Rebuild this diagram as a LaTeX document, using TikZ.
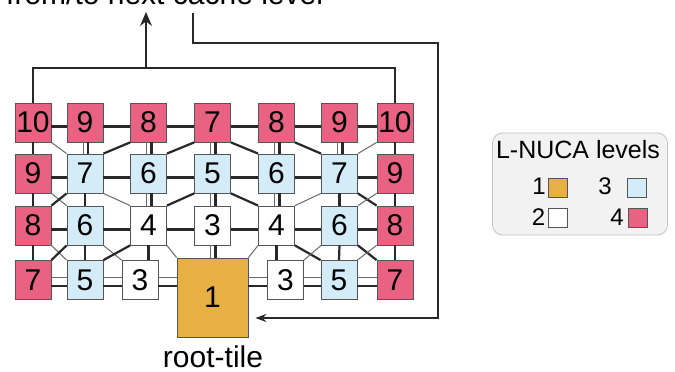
\documentclass[tikz,border=0pt]{standalone}
\usepackage{fontspec}
\setmainfont{Liberation Sans}
\usetikzlibrary{arrows.meta}
\definecolor{pinkc}{RGB}{233,98,130}
\definecolor{bluec}{RGB}{212,236,248}
\definecolor{orangec}{RGB}{232,176,66}
\definecolor{tileb}{RGB}{85,85,85}
\definecolor{darkl}{RGB}{40,40,40}
\definecolor{grayl}{RGB}{105,105,105}
\definecolor{legfill}{RGB}{242,242,242}
\definecolor{legdraw}{RGB}{195,195,195}
\begin{document}
\begin{tikzpicture}[x=1pt,y=-1pt,
  tile/.style={draw=tileb, line width=0.8pt, minimum width=36pt, minimum height=39pt, inner sep=0pt, font=\fontsize{30}{30}\selectfont},
  Lfour/.style={tile, fill=pinkc},
  Lthree/.style={tile, fill=bluec},
  Ltwo/.style={tile, fill=white},
  thickl/.style={line width=2.2pt, draw=darkl},
  thinl/.style={line width=1pt, draw=grayl},
  route/.style={line width=1.3pt, draw=darkl},
  legsq/.style={draw=tileb, line width=0.7pt, minimum width=19pt, minimum height=19pt, inner sep=0pt},
  legnum/.style={font=\fontsize{24}{24}\selectfont, inner sep=0pt},
  bigtext/.style={font=\fontsize{30}{30}\selectfont, inner sep=0pt}
]
\useasboundingbox (0,0) rectangle (675,372);

% ---- tiles ----
% row 1
\node[Lfour] (t11) at (33,122.5) {10};
\node[Lfour] (t12) at (85,122.5) {9};
\node[Lfour] (t13) at (148.5,122.5) {8};
\node[Lfour] (t14) at (212.5,122.5) {7};
\node[Lfour] (t15) at (276.5,122.5) {8};
\node[Lfour] (t16) at (339.5,122.5) {9};
\node[Lfour] (t17) at (395,122.5) {10};
% row 2
\node[Lfour]  (t21) at (33,173.5) {9};
\node[Lthree] (t22) at (85,173.5) {7};
\node[Lthree] (t23) at (148.5,173.5) {6};
\node[Lthree] (t24) at (212.5,173.5) {5};
\node[Lthree] (t25) at (276.5,173.5) {6};
\node[Lthree] (t26) at (339.5,173.5) {7};
\node[Lfour]  (t27) at (395,173.5) {9};
% row 3
\node[Lfour]  (t31) at (33,225.5) {8};
\node[Lthree] (t32) at (85,225.5) {6};
\node[Ltwo]   (t33) at (148.5,225.5) {4};
\node[Ltwo]   (t34) at (212.5,225.5) {3};
\node[Ltwo]   (t35) at (276.5,225.5) {4};
\node[Lthree] (t36) at (339.5,225.5) {6};
\node[Lfour]  (t37) at (395,225.5) {8};
% row 4
\node[Lfour]  (t41) at (33,280) {7};
\node[Lthree] (t42) at (85,280) {5};
\node[Ltwo]   (t43) at (140,280) {3};
\node[tile, fill=orangec, minimum width=71pt, minimum height=79pt] (root) at (212.5,297.5) {1};
\node[Ltwo]   (t45) at (285.5,280) {3};
\node[Lthree] (t46) at (339,280) {5};
\node[Lfour]  (t47) at (395,280) {7};

% ---- horizontal links ----
\foreach \r in {1,2,3}{
  \foreach \c/\d in {1/2,2/3,3/4,4/5,5/6,6/7}{
    \draw[thickl] ([yshift=-4pt]t\r\c.east) -- ([yshift=-4pt]t\r\d.west);
  }
}
\foreach \a/\b in {t41/t42,t42/t43,t45/t46,t46/t47}{
  \draw[thinl] ([yshift=3pt]\a.east) -- ([yshift=3pt]\b.west);
  \draw[thickl] ([yshift=-6pt]\a.east) -- ([yshift=-6pt]\b.west);
}
\draw[thinl] ([yshift=3pt]t43.east) -- ([yshift=3pt]t43.east -| root.west);
\draw[thickl] ([yshift=-6pt]t43.east) -- ([yshift=-6pt]t43.east -| root.west);
\draw[thinl] ([yshift=3pt]t45.west -| root.east) -- ([yshift=3pt]t45.west);
\draw[thickl] ([yshift=-6pt]t45.west -| root.east) -- ([yshift=-6pt]t45.west);

% ---- vertical links ----
\foreach \c in {2,...,6}{
  \draw[thinl] ([xshift=-2pt]t1\c.south) -- ([xshift=-2pt]t2\c.north);
  \draw[thickl] ([xshift=3pt]t1\c.south) -- ([xshift=3pt]t2\c.north);
}
\foreach \c in {1,7}{
  \draw[thickl] (t1\c.south) -- (t2\c.north);
}
\foreach \c in {3,4,5}{
  \draw[thinl] ([xshift=-2pt]t2\c.south) -- ([xshift=-2pt]t3\c.north);
  \draw[thickl] ([xshift=3pt]t2\c.south) -- ([xshift=3pt]t3\c.north);
}
\foreach \c in {1,2,6,7}{
  \draw[thickl] (t2\c.south) -- (t3\c.north);
}
\foreach \c in {1,2,6,7}{
  \draw[thickl] (t3\c.south) -- (t4\c.north);
}
\draw[thickl] (t33.south) -- (t33.south |- t43.north);
\draw[thickl] (t35.south) -- (t35.south |- t45.north);
\draw[thinl] ([xshift=-2pt]t34.south) -- ([xshift=-2pt]t34.south |- root.north);
\draw[thickl] ([xshift=3pt]t34.south) -- ([xshift=3pt]t34.south |- root.north);

% ---- diagonal links ----
% rows 1-2
\draw[thinl]  (t11.south east) -- (t22.north west);
\draw[thickl] (t13.south west) -- (t22.north east);
\draw[thickl] (t14.south west) -- (t23.north east);
\draw[thickl] (t14.south east) -- (t25.north west);
\draw[thickl] (t15.south east) -- (t26.north west);
\draw[thinl]  (t17.south west) -- (t26.north east);
% rows 2-3
\draw[thinl]  (t21.south east) -- (t32.north west);
\draw[thickl] (t22.south west) -- (t31.north east);
\draw[thinl]  (t22.south east) -- (t33.north west);
\draw[thickl] (t24.south west) -- (t33.north east);
\draw[thickl] (t24.south east) -- (t35.north west);
\draw[thinl]  (t26.south west) -- (t35.north east);
\draw[thickl] (t26.south east) -- (t37.north west);
\draw[thinl]  (t27.south west) -- (t36.north east);
% rows 3-4
\draw[thinl]  (t31.south east) -- (t42.north west);
\draw[thickl] (t32.south west) -- (t41.north east);
\draw[thinl]  (t32.south east) -- (t43.north west);
\draw[thickl] (t33.south west) -- (t42.north east);
\draw[thinl]  (t33.south east) -- (root.north west);
\draw[thinl]  (t35.south west) -- (root.north east);
\draw[thickl] (t35.south east) -- (t46.north west);
\draw[thinl]  (t36.south west) -- (t45.north east);
\draw[thickl] (t36.south east) -- (t47.north west);
\draw[thinl]  (t37.south west) -- (t46.north east);

% ---- routing to/from next level ----
\coordinate (bus) at (146,68);
\coordinate (out) at (146,12);
\draw[route] (t11.north) -- (t11.north |- bus) -- (t17.north |- bus) -- (t17.north);
\draw[route,-{Stealth[length=14pt,width=12pt]}] (bus) -- (out);
\coordinate (in) at (193,13);
\coordinate (turn) at (438,43);
\coordinate (low) at (438,318);
\draw[route,-{Stealth[length=11pt,width=8pt]}] (in) |- (turn) -- (low) -- ([xshift=7pt]root.east |- low);

% ---- texts ----
\node[bigtext, anchor=base west] (toptext) at (6,5) {from/to next cache level};
\node[bigtext, anchor=base] (roottext) at (213,367) {root-tile};

% ---- legend ----
\node[draw=legdraw, fill=legfill, line width=0.8pt, rounded corners=10pt, minimum width=175pt, minimum height=102pt] (legend) at (580,184) {};
\node[font=\fontsize{25}{25}\selectfont, inner sep=0pt] (legtitle) at (578,150) {L-NUCA levels};
\node[legnum] (n1) at (539,186) {1};
\node[legsq, fill=orangec] (s1) at (557.5,187.5) {};
\node[legnum] (n3) at (605,186) {3};
\node[legsq, fill=bluec] (s3) at (637,187.5) {};
\node[legnum] (n2) at (538.5,217) {2};
\node[legsq, fill=white] (s2) at (557.5,217.5) {};
\node[legnum] (n4) at (617,217) {4};
\node[legsq, fill=pinkc] (s4) at (638,218) {};
\end{tikzpicture}
\end{document}
